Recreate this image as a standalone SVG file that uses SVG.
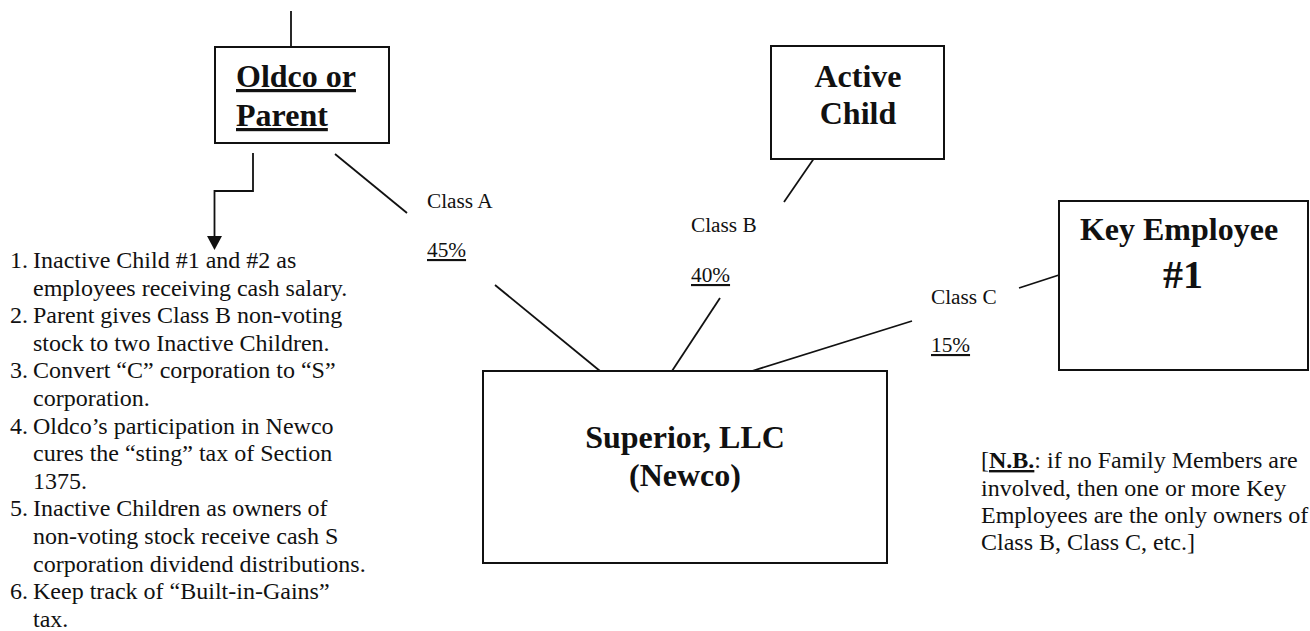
<svg xmlns="http://www.w3.org/2000/svg" width="1310" height="631" viewBox="0 0 1310 631">
<style>
.box{fill:#fff;stroke:#111;stroke-width:2}
.ln{stroke:#111;stroke-width:1.8;fill:none}
.t{font-family:"Liberation Serif","Times New Roman",serif;fill:#111}
.big{font-size:32px;font-weight:bold}
.lab{font-size:21.3px}
.body{font-size:24px}
</style>
<rect width="1310" height="631" fill="#fff"/>
<g id="connectors">
<line class="ln" x1="291" y1="11" x2="291" y2="47"/>
<polyline class="ln" points="253,153 253,191 214.5,191 214.5,237"/>
<polygon points="207,236 222,236 214.5,250" fill="#111"/>
<line class="ln" x1="335" y1="154" x2="407" y2="213"/>
<line class="ln" x1="495" y1="285" x2="600" y2="371"/>
<line class="ln" x1="817" y1="154" x2="784" y2="202"/>
<line class="ln" x1="720" y1="298" x2="672" y2="371"/>
<line class="ln" x1="912" y1="321" x2="752" y2="371"/>
<line class="ln" x1="1019" y1="288" x2="1059" y2="275"/>
</g>
<g id="oldco">
<rect class="box" x="215" y="47" width="174" height="96"/>
<text class="t big" x="236" y="87" text-decoration="underline">Oldco or</text>
<text class="t big" x="236" y="126" text-decoration="underline">Parent</text>
</g>
<g id="active-child">
<rect class="box" x="771" y="46" width="173" height="113"/>
<text class="t big" x="858" y="87" text-anchor="middle">Active</text>
<text class="t big" x="858" y="124" text-anchor="middle">Child</text>
</g>
<g id="key-employee">
<rect class="box" x="1059" y="201" width="249" height="169"/>
<text class="t big" x="1179" y="240" text-anchor="middle">Key Employee</text>
<text class="t" x="1183" y="288" text-anchor="middle" font-size="40" font-weight="bold">#1</text>
</g>
<g id="superior">
<rect class="box" x="483" y="371" width="404" height="192"/>
<text class="t big" x="685" y="448" text-anchor="middle">Superior, LLC</text>
<text class="t big" x="685" y="486" text-anchor="middle">(Newco)</text>
</g>
<g id="labels">
<text class="t lab" x="427" y="208">Class A</text>
<text class="t lab" x="427" y="257" text-decoration="underline">45%</text>
<text class="t lab" x="691" y="232">Class B</text>
<text class="t lab" x="691" y="282" text-decoration="underline">40%</text>
<text class="t lab" x="931" y="304">Class C</text>
<text class="t lab" x="931" y="352" text-decoration="underline">15%</text>
</g>
<g id="steps" class="t body">
<text x="10" y="268">1.</text><text x="33" y="268">Inactive Child #1 and #2 as</text>
<text x="33" y="295.6">employees receiving cash salary.</text>
<text x="10" y="323.2">2.</text><text x="33" y="323.2">Parent gives Class B non-voting</text>
<text x="33" y="350.8">stock to two Inactive Children.</text>
<text x="10" y="378.4">3.</text><text x="33" y="378.4">Convert “C” corporation to “S”</text>
<text x="33" y="406">corporation.</text>
<text x="10" y="433.6">4.</text><text x="33" y="433.6">Oldco’s participation in Newco</text>
<text x="33" y="461.2">cures the “sting” tax of Section</text>
<text x="33" y="488.8">1375.</text>
<text x="10" y="516.4">5.</text><text x="33" y="516.4">Inactive Children as owners of</text>
<text x="33" y="544">non-voting stock receive cash S</text>
<text x="33" y="571.6">corporation dividend distributions.</text>
<text x="10" y="599.2">6.</text><text x="33" y="599.2">Keep track of “Built-in-Gains”</text>
<text x="33" y="626.8">tax.</text>
</g>
<g id="note" class="t body">
<text x="981" y="468">[<tspan font-weight="bold" text-decoration="underline">N.B.</tspan>: if no Family Members are</text>
<text x="981" y="496">involved, then one or more Key</text>
<text x="981" y="523">Employees are the only owners of</text>
<text x="981" y="550">Class B, Class C, etc.]</text>
</g>
</svg>
